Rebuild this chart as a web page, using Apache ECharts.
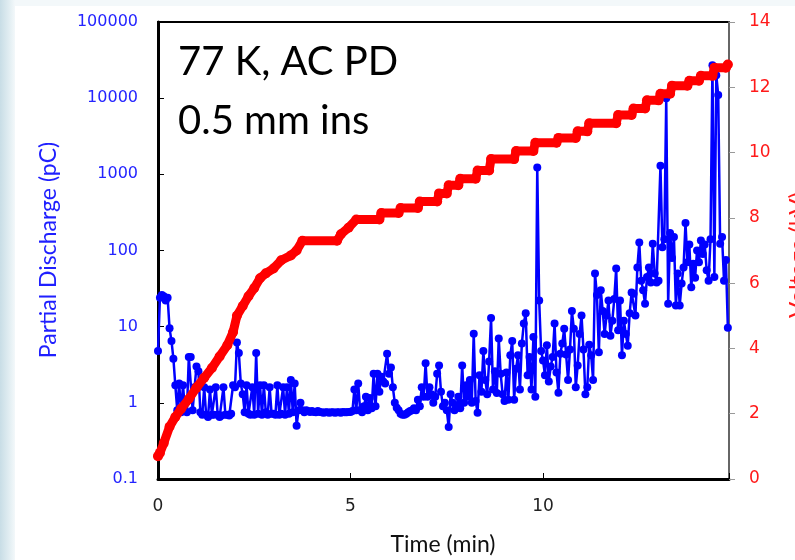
<!doctype html>
<html lang="en">
<head>
    <meta charset="UTF-8">
    <title>77 K, AC PD - 0.5 mm ins</title>
    <script src="https://cdn.jsdelivr.net/npm/echarts@6/dist/echarts.min.js"></script>
    <style>
        html, body { margin: 0; padding: 0; }
        body {
            width: 795px; height: 560px; position: relative; overflow: hidden;
            background: linear-gradient(to right, #c8dde6 0px, #e4eff3 10px, #f3f8fa 15px, #f3f8fa 100%);
        }
        .slide { position: absolute; left: 15px; top: 6px; right: 0; bottom: 0; background: #fff; }
        #main { position: absolute; left: 0; top: 0; width: 795px; height: 560px; }
    </style>
</head>
<body>
<div class="slide"></div>
<div id="main"></div>
<script>
    // PD readings, one every 0.05 min (pC)
    var sampleStep = 0.05;
    var pdCharge = [
        4.8, 24, 26, 25, 22, 24, 9.5, 6.5, 3.8, 1.7, 0.8, 1.8, 0.75, 1.7, 0.8, 0.75, 4.0, 4.0, 0.8, 1.6,
        3.0, 2.6, 0.75, 0.7, 1.6, 0.7, 0.65, 1.5, 0.7, 0.7, 1.6, 0.7, 0.65, 0.68, 1.6, 0.7, 0.7, 0.68, 0.72, 1.7,
        1.6, 6.2, 4.5, 1.8, 1.3, 0.75, 1.7, 0.72, 0.7, 1.6, 0.7, 4.5, 0.72, 1.7, 0.7, 1.7, 0.75, 0.7, 1.6, 0.72,
        0.72, 0.7, 1.7, 0.7, 0.72, 1.6, 0.7, 1.6, 0.72, 2.0, 0.75, 1.8, 0.5, 0.8, 1.0, 0.8, 0.75, 0.8, 0.78, 0.76,
        0.78, 0.76, 0.75, 0.78, 0.76, 0.75, 0.74, 0.75, 0.75, 0.74, 0.75, 0.75, 0.74, 0.75, 0.75, 0.74, 0.76, 0.75, 0.75, 0.76,
        0.76, 0.78, 1.5, 0.8, 1.8, 0.8, 0.75, 0.9, 1.2, 0.8, 1.16, 0.85, 2.4, 0.9, 2.4, 1.4, 2.2, 1.9, 1.8, 4.4,
        2.4, 2.9, 1.6, 1.0, 0.86, 0.8, 0.72, 0.7, 0.7, 0.72, 0.75, 0.78, 0.8, 0.85, 0.8, 1.1, 0.9, 1.6, 1.2, 3.3,
        1.2, 1.6, 1.3, 1.0, 1.2, 2.4, 3.1, 1.4, 0.9, 1.0, 0.8, 0.48, 1.3, 1.0, 0.8, 0.9, 1.2, 0.85, 3.1, 1.0,
        1.7, 1.2, 2.0, 1.0, 8.1, 1.06, 0.74, 2.3, 1.4, 4.8, 2.0, 1.3, 3.5, 13, 1.5, 2.6, 1.35, 7.0, 2.4, 1.3,
        1.06, 2.5, 1.1, 4.2, 6.5, 1.1, 2.8, 4.2, 1.5, 6.0, 11, 15, 2.3, 4.0, 1.5, 7.3, 1.2, 1230, 22, 4.8,
        3.6, 2.3, 5.7, 1.9, 3.0, 4.0, 11, 2.5, 1.36, 4.4, 6.0, 9.4, 4.3, 2.0, 5.0, 16, 9.4, 1.6, 3.1, 8.0,
        14, 5.0, 1.3, 1.6, 5.8, 4.2, 2.0, 50, 26, 4.6, 30, 16, 8.0, 14, 22, 7.6, 12, 23, 58, 9.0,
        22, 4.2, 12, 8, 5.6, 15, 28, 27, 14, 60, 127, 40, 30, 20, 45, 60, 38, 123, 50, 38,
        40, 1300, 110, 140, 10000, 20, 170, 80, 150, 19, 50, 19, 37, 60, 230, 70, 120, 33, 67, 44,
        100, 70, 135, 90, 120, 55, 40, 140, 27000, 45, 20000, 11000, 123, 150, 40, 75, 9.7
    ];

    // applied voltage (kV) at the step points (min)
    var voltTime = [0, 0.05, 0.15, 0.3, 0.45, 0.6, 0.8, 1.0, 1.2, 1.4, 1.6, 1.8, 1.95, 2.05, 2.2, 2.35, 2.5, 2.65, 2.8, 3.0,
        3.2, 3.45, 3.6, 3.75, 4.65, 4.75, 4.95, 5.15, 5.75, 5.8, 6.25, 6.3, 6.75, 6.8, 7.25, 7.3, 7.5, 7.55, 7.8, 7.85,
        8.25, 8.3, 8.6, 8.65, 9.25, 9.3, 9.75, 9.8, 10.35, 10.4, 10.85, 10.9, 11.15, 11.2, 11.9, 11.95, 12.3, 12.35, 12.65, 12.7,
        13.0, 13.05, 13.3, 13.35, 13.75, 13.8, 14.05, 14.1, 14.4, 14.45, 14.75, 14.8];
    var voltKV = [0.7, 0.8, 1.1, 1.6, 1.9, 2.15, 2.45, 2.8, 3.1, 3.4, 3.75, 4.1, 4.5, 5.0, 5.3, 5.6, 5.85, 6.15, 6.3, 6.45,
        6.7, 6.85, 7.0, 7.3, 7.3, 7.5, 7.7, 7.95, 7.95, 8.15, 8.15, 8.3, 8.3, 8.5, 8.5, 8.75, 8.75, 9.0, 9.0, 9.2,
        9.2, 9.45, 9.45, 9.8, 9.8, 10.05, 10.05, 10.3, 10.3, 10.45, 10.45, 10.65, 10.65, 10.9, 10.9, 11.15, 11.15, 11.35, 11.35, 11.6,
        11.6, 11.8, 11.8, 12.05, 12.05, 12.2, 12.2, 12.35, 12.35, 12.6, 12.6, 12.7];

    var pdTicks = ['0.1', '1', '10', '100', '1000', '10000', '100000'];
    var timeTicks = [0, 5, 10];

    var pdData = pdCharge.map(function (v, i) {
        return [+(i * sampleStep).toFixed(2), v];
    });
    var voltData = voltTime.map(function (t, i) {
        return [t, voltKV[i]];
    });

    var myChart = echarts.init(document.getElementById('main'), null, {renderer: 'canvas'});

    var option = {
        animation: false,
        grid: {
            left: 158, top: 22, right: 66, bottom: 81,
            show: true, borderColor: '#000', borderWidth: 2, backgroundColor: 'transparent'
        },
        xAxis: {
            type: 'value',
            min: 0, max: 14.83, interval: 5,
            axisLine: {lineStyle: {color: '#000', width: 3}},
            axisTick: {inside: true, length: 6, lineStyle: {color: '#000', width: 1}},
            axisLabel: {
                color: '#222', fontSize: 17, fontFamily: 'DejaVu Sans', margin: 19,
                formatter: function (v) {
                    return timeTicks.indexOf(v) >= 0 ? String(v) : '';
                }
            },
            splitLine: {show: false}
        },
        yAxis: [{
            type: 'log', logBase: 10, min: 0.1, max: 100000,
            axisLine: {lineStyle: {color: '#000', width: 3}},
            axisTick: {inside: true, length: 6, lineStyle: {color: '#000', width: 1}},
            minorTick: {show: false},
            axisLabel: {
                color: '#2424ff', fontSize: 16, fontFamily: 'DejaVu Sans', margin: 20,
                formatter: function (v) {
                    var k = Math.round(Math.log(v) / Math.LN10) + 1;
                    return pdTicks[k] || '';
                }
            },
            splitLine: {show: false}
        }, {
            type: 'value', min: 0, max: 14, interval: 2, position: 'right',
            axisLine: {show: true, lineStyle: {color: '#666', width: 2}},
            axisTick: {show: true, inside: false, length: 6, lineStyle: {color: '#999', width: 1}},
            axisLabel: {color: '#ff1a1a', fontSize: 17, fontFamily: 'DejaVu Sans', margin: 20},
            splitLine: {show: false}
        }],
        graphic: [
            {type: 'text', x: 178, y: 62, style: {text: '77 K, AC PD', fill: '#000', font: '40px Lato', textVerticalAlign: 'middle'}},
            {type: 'text', x: 178, y: 121, style: {text: '0.5 mm ins', fill: '#000', font: '40px Lato', textVerticalAlign: 'middle'}},
            {type: 'text', x: 443, y: 545, style: {text: 'Time (min)', fill: '#111', font: '23px Lato', textAlign: 'center', textVerticalAlign: 'middle'}},
            {type: 'text', x: 49, y: 250, rotation: Math.PI / 2, style: {text: 'Partial Discharge (pC)', fill: '#1f1fff', font: '23px Lato', textAlign: 'center', textVerticalAlign: 'middle'}},
            {type: 'text', x: 798, y: 255, rotation: Math.PI / 2, style: {text: 'Voltage (kV)', fill: '#ff1a1a', font: '24px Lato', textAlign: 'center', textVerticalAlign: 'middle'}}
        ],
        series: [{
            name: 'Partial Discharge',
            type: 'line',
            yAxisIndex: 0,
            data: pdData,
            symbol: 'circle',
            symbolSize: 8,
            showAllSymbol: true,
            lineStyle: {color: '#0000ff', width: 2.5},
            itemStyle: {color: '#0000ff'},
            z: 2
        }, {
            name: 'Voltage',
            type: 'line',
            yAxisIndex: 1,
            data: voltData,
            symbol: 'circle',
            symbolSize: 10,
            showAllSymbol: true,
            lineStyle: {color: '#ff0000', width: 9, cap: 'round', join: 'round'},
            itemStyle: {color: '#ff0000'},
            z: 3
        }]
    };

    myChart.setOption(option);
</script>
</body>
</html>
